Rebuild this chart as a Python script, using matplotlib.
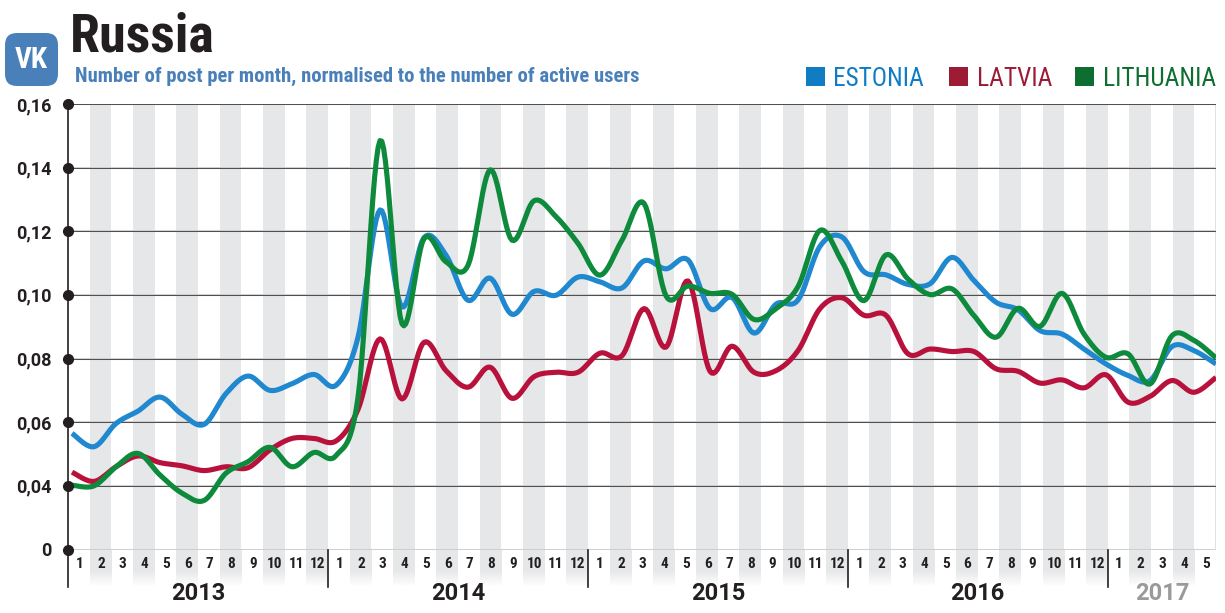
import numpy as np
import matplotlib
matplotlib.use("Agg")
import matplotlib.pyplot as plt
from matplotlib.patches import FancyBboxPatch, Rectangle

estonia = [.0565, .0523, .0596, .0635, .0679, .0625, .0593, .0690, .0745, .0700, .0721, .0750, .0716,
           .0867, .1267, .0962, .1180, .1125, .0983, .1053, .0939, .1011, .0999, .1056, .1041, .1022,
           .1107, .1082, .1110, .0957, .0992, .0880, .0971, .0984, .1153, .1182, .1073, .1063,
           .1033, .1035, .1118, .1045, .0977, .0953, .0888, .0877, .0830, .0783, .0747, .0731, .0838, .0825, .0783]
latvia = [.0443, .0414, .0460, .0494, .0473, .0463, .0448, .0460, .0457, .0513, .0549, .0549, .0541,
          .0640, .0862, .0673, .0851, .0762, .0710, .0773, .0675, .0743, .0757, .0757, .0817, .0809,
          .0957, .0836, .1044, .0760, .0839, .0757, .0762, .0825, .0957, .0991, .0936, .0936,
          .0815, .0830, .0822, .0822, .0768, .0760, .0723, .0733, .0708, .0749, .0663, .0681, .0731, .0694, .0741]
lithuania = [.0402, .0400, .0460, .0502, .0434, .0354, .0308, .0440, .0476, .0521, .0460, .0505, .0495,
             .0678, .1485, .0909, .1177, .1104, .1093, .1393, .1172, .1296, .1246, .1162, .1062, .1172,
             .1288, .0997, .1028, .1005, .1002, .0923, .0957, .1026, .1203, .1105, .0982, .1126,
             .1050, .1001, .1019, .0935, .0867, .0958, .0901, .1005, .0877, .0804, .0815, .0720, .0872, .0857, .0802]
y_ticks = [0, .04, .06, .08, .10, .12, .14, .16]
y_labels = ["0", "0,04", "0,06", "0,08", "0,10", "0,12", "0,14", "0,16"]
years = ["2013", "2014", "2015", "2016", "2017"]
months_per_year = [12, 12, 12, 12, 5]

NARROW = "Roboto Condensed"
W, H = 1225, 613


def fwd(v):
    v = np.asarray(v, dtype=float)
    return np.where(v < .04, v / .04, 1 + (v - .04) / .02)


def inv(u):
    u = np.asarray(u, dtype=float)
    return np.where(u < 1, u * .04, .04 + (u - 1) * .02)


# catmull-rom, the source draws its lines smoothed
def smooth(x, y, n=12):
    px = np.r_[x[0], x, x[-1]]
    py = np.r_[y[0], y, y[-1]]
    xs, ys = [], []
    for i in range(1, len(px) - 2):
        t = np.linspace(0, 1, n, endpoint=False)
        for p, out in ((px, xs), (py, ys)):
            a, b, c, d = p[i - 1], p[i], p[i + 1], p[i + 2]
            out.append(.5 * (2 * b + (c - a) * t + (2 * a - 5 * b + 4 * c - d) * t ** 2
                             + (3 * b - a - 3 * c + d) * t ** 3))
    return np.r_[np.concatenate(xs), x[-1]], np.r_[np.concatenate(ys), y[-1]]


fig = plt.figure(figsize=(W / 100, H / 100), dpi=100, facecolor="white")
ax = fig.add_axes([68 / W, (H - 549.5) / H, 1148 / W, 445.5 / H])
ax.set_yscale("function", functions=(fwd, inv))
n_months = sum(months_per_year)
ax.set_xlim(0, n_months)
ax.set_ylim(0, .16)
for s in ax.spines.values():
    s.set_visible(False)
ax.set_xticks([])
ax.set_yticks(y_ticks)
ax.set_yticklabels(y_labels, family="Roboto", weight="bold", fontsize=13, color="#231f20")
ax.tick_params(axis="y", length=0, pad=12)
ax.minorticks_off()

for m in range(1, n_months, 2):
    ax.axvspan(m, m + 1, color="#e6e7e9", lw=0, zorder=0)
for t in y_ticks:
    ax.axhline(t, color="#cfcfcf", lw=1.3, zorder=1)
    ax.axhline(t, color="#505050", lw=.75, zorder=1.1)
ax.axvline(n_months, color="#dcdcdc", lw=1.2, zorder=1)

pos = np.linspace(.185, n_months, len(estonia))
for vals, col in ((estonia, "#1f88cf"), (latvia, "#b8123c"), (lithuania, "#0e8a3c")):
    xs, us = smooth(pos, fwd(vals))
    ax.plot(xs, inv(us), color=col, lw=3.7, solid_capstyle="butt", solid_joinstyle="round", zorder=3)

ax.axvline(0, color="#231f20", lw=1.2, clip_on=False, zorder=4)
ax.plot(np.zeros(len(y_ticks)), y_ticks, "o", color="#231f20", ms=7, clip_on=False, zorder=5)

# strip under the axis, stripes fade out
low = fig.add_axes([68 / W, (H - 587) / H, 1148 / W, 37.5 / H], sharex=ax)
low.axis("off")
fade = np.linspace(0, 1, 40).reshape(-1, 1)
fade = np.clip((fade - .55) / .45, 0, 1)
img = np.dstack([np.full_like(fade, .902), np.full_like(fade, .906), np.full_like(fade, .914), 1 - fade])
for m in range(1, n_months, 2):
    low.imshow(img, extent=(m, m + 1, 1, 0), aspect="auto", zorder=0)
low.set_xlim(0, n_months)
low.set_ylim(1, 0)

start = 0
for year, cnt in zip(years, months_per_year):
    for m in range(cnt):
        low.text(start + m + .53, .40, str(m + 1), family=NARROW, weight="bold", fontsize=11,
                 color="#231f20", ha="center", va="center")
    low.plot([start, start], [0, 1], color="#231f20", lw=1.2, clip_on=False, zorder=3)
    low.text(start + (6 if cnt == 12 else 2.5), 1.16, year, family="Roboto", weight="bold", fontsize=17,
             color="#231f20" if year != "2017" else "#9a9a9a", ha="center", va="center", clip_on=False)
    start += cnt

# title, logo and legend are placed in pixels
deco = fig.add_axes([0, 0, 1, 1], facecolor="none")
deco.set_xlim(0, W)
deco.set_ylim(H, 0)
deco.axis("off")
deco.add_patch(FancyBboxPatch((13, 41), 37, 37, boxstyle="round,pad=8,rounding_size=12", fc="#4a80b9", ec="none"))
deco.text(31.5, 60, "VK", family=NARROW, weight="bold", fontsize=21, color="white", ha="center", va="center")
deco.text(70, 52, "Russia", family=NARROW, weight="bold", fontsize=39, color="#231f20", va="baseline")
deco.text(75, 82, "Number of post per month, normalised to the number of active users", family=NARROW,
          weight="bold", fontsize=14.85, color="#4a80b9", va="baseline")
for label, sx, tx, sc in (("ESTONIA", 806, 833, "#0f7cc4"), ("LATVIA", 949, 977, "#9c1b35"),
                          ("LITHUANIA", 1075, 1103, "#0e6e30")):
    deco.add_patch(Rectangle((sx, 67), 19, 19, fc=sc, ec="none"))
    deco.text(tx, 86, label, family=NARROW, weight=400, fontsize=18.3, color=sc, va="baseline")

fig.savefig("out.png", dpi=100)
